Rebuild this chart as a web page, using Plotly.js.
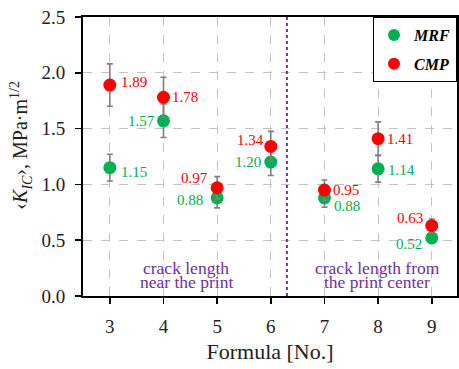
<!DOCTYPE html>
<html>
<head>
<meta charset="utf-8">
<script src="https://cdn.plot.ly/plotly-3.0.1.min.js"></script>
<style>
  html, body { margin: 0; padding: 0; background: #fff; }
  #chart { width: 459px; height: 369px; }
</style>
</head>
<body>
<div id="chart"></div>
<script>
// Mean fracture toughness per formula, two sample sets
const formulas = [3, 4, 5, 6, 7, 8, 9];
const mrfValues = [1.15, 1.57, 0.88, 1.20, 0.88, 1.14, 0.52];
const mrfErrors = [0.12, 0.15, 0.09, 0.12, 0.085, 0.12, 0.045];
const cmpValues = [1.89, 1.78, 0.97, 1.34, 0.95, 1.41, 0.63];
const cmpErrors = [0.19, 0.18, 0.10, 0.135, 0.09, 0.15, 0.06];
const xTicks = [3, 4, 5, 6, 7, 8, 9];
const yTicks = [0, 0.5, 1.0, 1.5, 2.0, 2.5];

// Value-label placement (side of the marker, pixel nudges)
const mrfLabelPos = [
  ['left', 9, -4], ['right', -6, 0], ['right', -12, -2], ['right', -8, 0],
  ['left', 8, -8], ['left', 8, -1], ['right', -8, -6]
];
const cmpLabelPos = [
  ['left', 9, 3], ['left', 7, 0], ['right', -7, 10], ['right', -5, 6],
  ['left', 7, 0], ['left', 7, 0], ['right', -7, 8]
];

const GREEN = '#00b050';
const RED = '#ff0000';
const PURPLE = '#7030a0';
const FONT = 'Liberation Serif, Times New Roman, serif';

function series(name, ys, errs, color) {
  return {
    type: 'scatter', mode: 'markers', name: name,
    x: formulas, y: ys,
    marker: { color: color, size: 13 },
    error_y: { type: 'data', array: errs, visible: true, color: '#808080', thickness: 1.6, width: 3 },
    legendgroup: name
  };
}

function valueLabels(ys, pos, color) {
  return ys.map((v, i) => ({
    x: formulas[i], y: v, xref: 'x', yref: 'y',
    text: v.toFixed(2), showarrow: false,
    xanchor: pos[i][0], yanchor: 'middle',
    xshift: pos[i][1], yshift: pos[i][2],
    font: { family: FONT, size: 15, color: color }
  }));
}

// Region notes, one annotation per line for tight leading
function note(x, lines) {
  return lines.map((t, i) => ({
    x: x, y: 0, xref: 'x', yref: 'paper', showarrow: false,
    text: t, xanchor: 'center', yanchor: 'middle',
    yshift: 28 - i * 13.5,
    font: { family: FONT, size: 17.5, color: PURPLE }
  }));
}

const data = [
  series('<b><i>MRF</i></b>', mrfValues, mrfErrors, GREEN),
  series('<b><i>CMP</i></b>', cmpValues, cmpErrors, RED)
];

const annotations = [].concat(
  valueLabels(mrfValues, mrfLabelPos, GREEN),
  valueLabels(cmpValues, cmpLabelPos, RED),
  note(4.42, ['crack length', 'near the print']),
  note(7.98, ['crack length from', 'the print center']),
  [
    { x: -0.165, y: 0.54, xref: 'paper', yref: 'paper', showarrow: false,
      xanchor: 'center', yanchor: 'middle', textangle: -90,
      text: '‹<i>K<sub>IC</sub></i>›, MPa·m<sup>1/2</sup>',
      font: { family: FONT, size: 20, color: '#222' } }
  ]
);

const axisCommon = {
  showline: true, linecolor: '#000', linewidth: 2, mirror: true,
  ticks: 'outside', ticklen: 6, tickcolor: '#000', tickwidth: 1.5,
  showgrid: true, gridcolor: '#c4c4c4', griddash: 'dash', gridwidth: 1,
  zeroline: false,
  tickfont: { family: FONT, size: 19, color: '#222' }
};

const layout = {
  width: 459, height: 369,
  margin: { l: 83, r: 2, t: 17, b: 73 },
  paper_bgcolor: '#fff', plot_bgcolor: '#fff',
  font: { family: FONT },
  showlegend: true,
  legend: {
    x: 1, xanchor: 'right', y: 1, yanchor: 'top',
    bgcolor: '#fff', bordercolor: '#000', borderwidth: 1,
    font: { family: FONT, size: 16, color: '#000' },
    itemsizing: 'constant', itemwidth: 30, tracegroupgap: 5,
    traceorder: 'grouped'
  },
  xaxis: Object.assign({}, axisCommon, {
    range: [2.5, 9.47], tickvals: xTicks, ticktext: xTicks.map(String),
    ticklabelstandoff: 6,
    title: { text: 'Formula [No.]', font: { family: FONT, size: 22, color: '#222' }, standoff: 8 }
  }),
  yaxis: Object.assign({}, axisCommon, {
    range: [0, 2.5], tickvals: yTicks, ticktext: yTicks.map(v => v.toFixed(1)),
    ticklabelstandoff: 6
  }),
  shapes: [
    { type: 'line', xref: 'x', yref: 'paper', x0: 6.3, x1: 6.3, y0: 0, y1: 1,
      line: { color: PURPLE, width: 2, dash: 'dot' } }
  ],
  annotations: annotations
};

Plotly.newPlot('chart', data, layout, { staticPlot: true, displayModeBar: false });
</script>
</body>
</html>
